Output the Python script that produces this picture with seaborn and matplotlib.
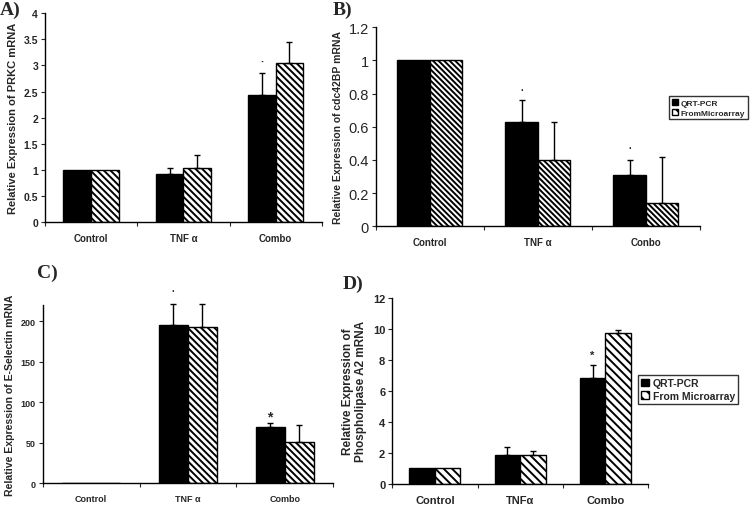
import numpy as np
import pandas as pd
import matplotlib
matplotlib.use("Agg")
import matplotlib.pyplot as plt
import seaborn as sns

sns.set_style("white")
plt.rcParams['font.family'] = ['Liberation Sans', 'DejaVu Sans']
plt.rcParams['hatch.linewidth'] = 1.4

categories = ["Control", "TNF α", "Combo"]
series = ["QRT-PCR", "From Microarray"]

# Panel A: PRKC
a_qrt = [1.0, 0.92, 2.43]
a_qrt_err = [0.0, 0.12, 0.42]
a_mic = [1.0, 1.04, 3.05]
a_mic_err = [0.0, 0.25, 0.39]

# Panel B: cdc42BP
b_qrt = [1.0, 0.63, 0.31]
b_qrt_err = [0.0, 0.13, 0.09]
b_mic = [1.0, 0.40, 0.14]
b_mic_err = [0.0, 0.23, 0.28]

# Panel C: E-Selectin
c_qrt = [0.0, 196.0, 70.0]
c_qrt_err = [0.0, 26.0, 5.0]
c_mic = [0.0, 193.0, 51.0]
c_mic_err = [0.0, 29.0, 21.0]

# Panel D: Phospholipase A2
d_qrt = [1.0, 1.85, 6.85]
d_qrt_err = [0.0, 0.55, 0.8]
d_mic = [1.0, 1.85, 9.7]
d_mic_err = [0.0, 0.25, 0.25]

fig = plt.figure(figsize=(7.5, 5.06), dpi=100)


def panel(rect, qrt, qerr, mic, merr, ylim, yticks, ticklabels, ylabel,
          xlabels, tick_fs, tick_bold, lab_fs, cat_fs, stars, hatch,
          legend=None):
    ax = fig.add_axes(rect)
    df = pd.DataFrame({
        "cat": categories * 2,
        "series": [series[0]] * 3 + [series[1]] * 3,
        "val": list(qrt) + list(mic),
    })
    sns.barplot(data=df, x="cat", y="val", hue="series", order=categories,
                hue_order=series, palette=["black", "white"], width=0.6,
                errorbar=None, edgecolor="black", linewidth=1.0, ax=ax,
                legend=False)
    bars = [p for p in ax.patches]
    qbars = bars[:3]
    mbars = bars[3:6]
    for p in mbars:
        p.set_hatch(hatch)
    xs_q = [p.get_x() + p.get_width() / 2 for p in qbars]
    xs_m = [p.get_x() + p.get_width() / 2 for p in mbars]
    for xs, vals, errs in [(xs_q, qrt, qerr), (xs_m, mic, merr)]:
        idx = [i for i in range(3) if errs[i] > 0]
        ax.errorbar([xs[i] for i in idx], [vals[i] for i in idx],
                    yerr=[[0] * len(idx), [errs[i] for i in idx]],
                    fmt="none", ecolor="black", elinewidth=1.0, capsize=2.5,
                    capthick=1.0, clip_on=False)
    for (i, yv, s, fs) in stars:
        ax.text(xs_q[i], yv, s, ha="center", va="center", fontsize=fs,
                fontweight="bold", clip_on=False)
    ax.set_xlim(-0.5, 2.5)
    ax.set_ylim(*ylim)
    ax.set_yticks(yticks)
    ax.set_yticklabels(ticklabels, fontsize=tick_fs,
                       fontweight="bold" if tick_bold else "normal")
    ax.set_xticks([0, 1, 2])
    ax.set_xticklabels(xlabels, fontsize=cat_fs, fontweight="bold")
    ax.set_xticks([-0.5, 0.5, 1.5, 2.5], minor=True)
    ax.tick_params(axis="x", which="major", length=0, pad=8)
    ax.tick_params(axis="x", which="minor", length=3, width=0.8,
                   direction="out", bottom=True)
    ax.tick_params(axis="y", length=3, width=0.8, direction="out", left=True,
                   pad=2)
    ax.set_xlabel("")
    ax.set_ylabel(ylabel, fontsize=lab_fs, fontweight="bold", labelpad=4)
    for s in ["top", "right"]:
        ax.spines[s].set_visible(False)
    for s in ["left", "bottom"]:
        ax.spines[s].set_color("black")
        ax.spines[s].set_linewidth(1.0)
    if legend is not None:
        loc, fs, labels = legend
        from matplotlib.patches import Patch
        handles = [Patch(facecolor="black", edgecolor="black"),
                   Patch(facecolor="white", edgecolor="black", hatch="\\\\\\")]
        leg = ax.legend(handles, labels, loc="upper left",
                        bbox_to_anchor=loc, bbox_transform=fig.transFigure,
                        fontsize=fs, frameon=True, fancybox=False,
                        handlelength=0.8, handleheight=0.8, handletextpad=0.3,
                        borderpad=0.3, labelspacing=0.25, borderaxespad=0)
        leg.get_frame().set_edgecolor("black")
        leg.get_frame().set_linewidth(1.0)
        for t in leg.get_texts():
            t.set_fontweight("bold")
    return ax


axA = panel([0.060, 0.559, 0.369, 0.413], a_qrt, a_qrt_err, a_mic, a_mic_err,
            (0, 4), [0, 0.5, 1, 1.5, 2, 2.5, 3, 3.5, 4],
            ["0", "0.5", "1", "1.5", "2", "2.5", "3", "3.5", "4"],
            "Relative Expression of PRKC mRNA",
            ["Control", "TNF α", "Combo"], 7.5, True, 8, 7,
            [(2, 3.07, "·", 8)], "\\" * 5)

axB = panel([0.501, 0.551, 0.432, 0.393], b_qrt, b_qrt_err, b_mic, b_mic_err,
            (0, 1.2), [0, 0.2, 0.4, 0.6, 0.8, 1.0, 1.2],
            ["0", "0.2", "0.4", "0.6", "0.8", "1", "1.2"],
            "Relative Expression of cdc42BP mRNA",
            ["Control", "TNF α", "Conbo"], 10.5, False, 7.5, 7,
            [(1, 0.82, "·", 7), (2, 0.47, "·", 7)], "\\" * 6,
            legend=((669 / 750, 1 - 97 / 506), 6,
                    ["QRT-PCR", "FromMicroarray"]))

axC = panel([0.057, 0.043, 0.387, 0.352], c_qrt, c_qrt_err, c_mic, c_mic_err,
            (0, 220), [0, 50, 100, 150, 200],
            ["0", "50", "100", "150", "200"],
            "Relative Expression of E-Selectin mRNA",
            ["Control", "TNF α", "Combo"], 6.5, True, 7.6, 6.5,
            [(1, 238, "·", 7), (2, 82, "*", 10)], "\\" * 5)

axD = panel([0.523, 0.0415, 0.341, 0.368], d_qrt, d_qrt_err, d_mic, d_mic_err,
            (0, 12), [0, 2, 4, 6, 8, 10, 12],
            ["0", "2", "4", "6", "8", "10", "12"],
            "Relative Expression of\nPhospholipase A2 mRNA",
            ["Control", "TNFα", "Combo"], 8, True, 8.5, 8,
            [(2, 8.3, "*", 8)], "\\" * 4,
            legend=((638 / 750, 1 - 376 / 506), 7.5,
                    ["QRT-PCR", "From Microarray"]))

serif = ['Liberation Serif', 'DejaVu Serif']
fig.text(0.0, 1 - 2 / 506, "A)", fontsize=14, fontweight="bold",
         family=serif, va="top", ha="left")
fig.text(333 / 750, 1 - 2 / 506, "B)", fontsize=14, fontweight="bold",
         family=serif, va="top", ha="left")
fig.text(37 / 750, 1 - 265 / 506, "C)", fontsize=14, fontweight="bold",
         family=serif, va="top", ha="left")
fig.text(343 / 750, 1 - 276 / 506, "D)", fontsize=14, fontweight="bold",
         family=serif, va="top", ha="left")

fig.savefig("out.png", dpi=100, facecolor="white")
